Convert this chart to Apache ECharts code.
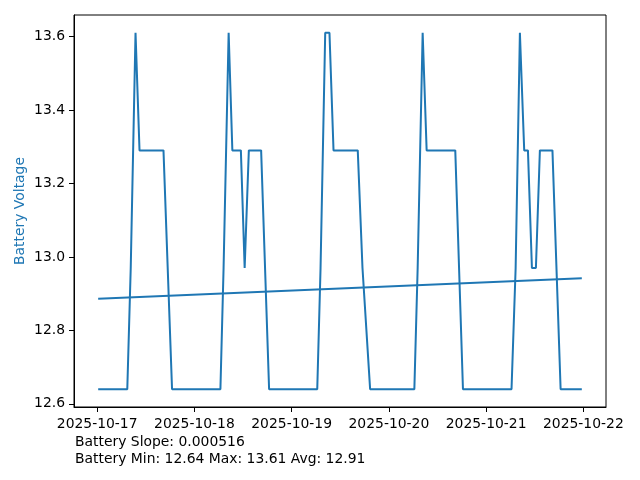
<!DOCTYPE html>
<html>
<head>
<meta charset="utf-8">
<script src="https://cdn.jsdelivr.net/npm/echarts@6/dist/echarts.min.js"></script>
<style>
html,body{margin:0;padding:0;background:#fff;}
#chart{width:640px;height:480px;}
</style>
</head>
<body>
<div id="chart"></div>
<script>
// Sample timestamps (local time) and battery voltages
const times = [
  "2025-10-17 00:15","2025-10-17 07:26","2025-10-17 08:17","2025-10-17 09:28","2025-10-17 10:27",
  "2025-10-17 16:22","2025-10-17 18:29",
  "2025-10-18 06:25","2025-10-18 07:12","2025-10-18 08:27","2025-10-18 09:22","2025-10-18 11:28",
  "2025-10-18 12:24","2025-10-18 13:26","2025-10-18 16:28","2025-10-18 18:26",
  "2025-10-19 06:19","2025-10-19 07:08","2025-10-19 08:17","2025-10-19 09:20","2025-10-19 10:20",
  "2025-10-19 16:19","2025-10-19 17:29","2025-10-19 19:22",
  "2025-10-20 06:17","2025-10-20 07:06","2025-10-20 08:20","2025-10-20 09:19","2025-10-20 16:23",
  "2025-10-20 18:17",
  "2025-10-21 06:16","2025-10-21 07:17","2025-10-21 08:20","2025-10-21 09:24","2025-10-21 10:19",
  "2025-10-21 11:18","2025-10-21 12:17","2025-10-21 13:16","2025-10-21 16:22","2025-10-21 18:23",
  "2025-10-21 23:37"
];
const voltage = [
  12.64,12.64,12.97,13.61,13.29,
  13.29,12.64,
  12.64,12.97,13.61,13.29,13.29,
  12.97,13.29,13.29,12.64,
  12.64,12.97,13.61,13.61,13.29,
  13.29,12.97,12.64,
  12.64,12.97,13.61,13.29,13.29,
  12.64,
  12.64,12.97,13.61,13.29,13.29,
  12.97,12.97,13.29,13.29,12.64,
  12.64
];
// Trend line end values
const trendValues = [12.886, 12.942];
// Tick labels
const xTickDates = ["2025-10-17","2025-10-18","2025-10-19","2025-10-20","2025-10-21","2025-10-22"];
const yTicks = [12.6, 12.8, 13.0, 13.2, 13.4, 13.6];
const yLabel = "Battery Voltage";
const statLines = ["Battery Slope: 0.000516", "Battery Min: 12.64 Max: 13.61 Avg: 12.91"];

function parseT(s) {
  const [d, t] = s.split(" ");
  const [y, m, dd] = d.split("-").map(Number);
  const [h, mi] = (t || "00:00").split(":").map(Number);
  return new Date(y, m - 1, dd, h, mi).getTime();
}
const ts = times.map(parseT);
const seriesData = ts.map((t, i) => [t, voltage[i]]);
const trendData = [[ts[0], trendValues[0]], [ts[ts.length - 1], trendValues[1]]];
const xTicks = xTickDates.map(parseT);

const tMin = Math.min(...ts), tMax = Math.max(...ts);
const tPad = (tMax - tMin) * 0.05;
const vMin = Math.min(...voltage), vMax = Math.max(...voltage);
const vPad = (vMax - vMin) * 0.05;

const FONT = "DejaVu Sans";
const FS = 13.9;
const COLOR = "#1f77b4";
const p2 = n => String(n).padStart(2, "0");

const chart = echarts.init(document.getElementById("chart"), null, {renderer: "canvas"});
chart.setOption({
  animation: false,
  backgroundColor: "#ffffff",
  grid: {left: 74, right: 34, top: 15, bottom: 73, show: true, borderColor: "#000", borderWidth: 1, backgroundColor: "transparent"},
  xAxis: {
    type: "value",
    min: tMin - tPad,
    max: tMax + tPad,
    axisLine: {show: true, onZero: false, lineStyle: {color: "#000", width: 1}},
    axisTick: {show: true, length: 5, lineStyle: {color: "#000"}, customValues: xTicks},
    axisLabel: {
      customValues: xTicks,
      color: "#000", fontFamily: FONT, fontSize: FS, margin: 10,
      formatter: function (v) {
        const d = new Date(v);
        return d.getFullYear() + "-" + p2(d.getMonth() + 1) + "-" + p2(d.getDate());
      }
    },
    splitLine: {show: false}
  },
  yAxis: {
    type: "value",
    min: vMin - vPad,
    max: vMax + vPad,
    name: yLabel,
    nameLocation: "middle",
    nameGap: 47,
    nameMoveOverlap: false,
    nameTextStyle: {color: COLOR, fontFamily: FONT, fontSize: FS},
    axisLine: {show: true, onZero: false, lineStyle: {color: "#000", width: 1}},
    axisTick: {show: true, length: 5, lineStyle: {color: "#000"}, customValues: yTicks},
    axisLabel: {
      customValues: yTicks,
      color: "#000", fontFamily: FONT, fontSize: FS, margin: 9,
      formatter: v => v.toFixed(1)
    },
    splitLine: {show: false}
  },
  graphic: [
    {type: "text", left: 75, top: 435, style: {text: statLines[0], fill: "#000", font: FS + "px '" + FONT + "'"}},
    {type: "text", left: 75, top: 452, style: {text: statLines[1], fill: "#000", font: FS + "px '" + FONT + "'"}}
  ],
  series: [
    {type: "line", data: seriesData, showSymbol: false, lineStyle: {color: COLOR, width: 2}, itemStyle: {color: COLOR}},
    {type: "line", data: trendData, showSymbol: false, lineStyle: {color: COLOR, width: 2}, itemStyle: {color: COLOR}}
  ]
});
</script>
</body>
</html>
